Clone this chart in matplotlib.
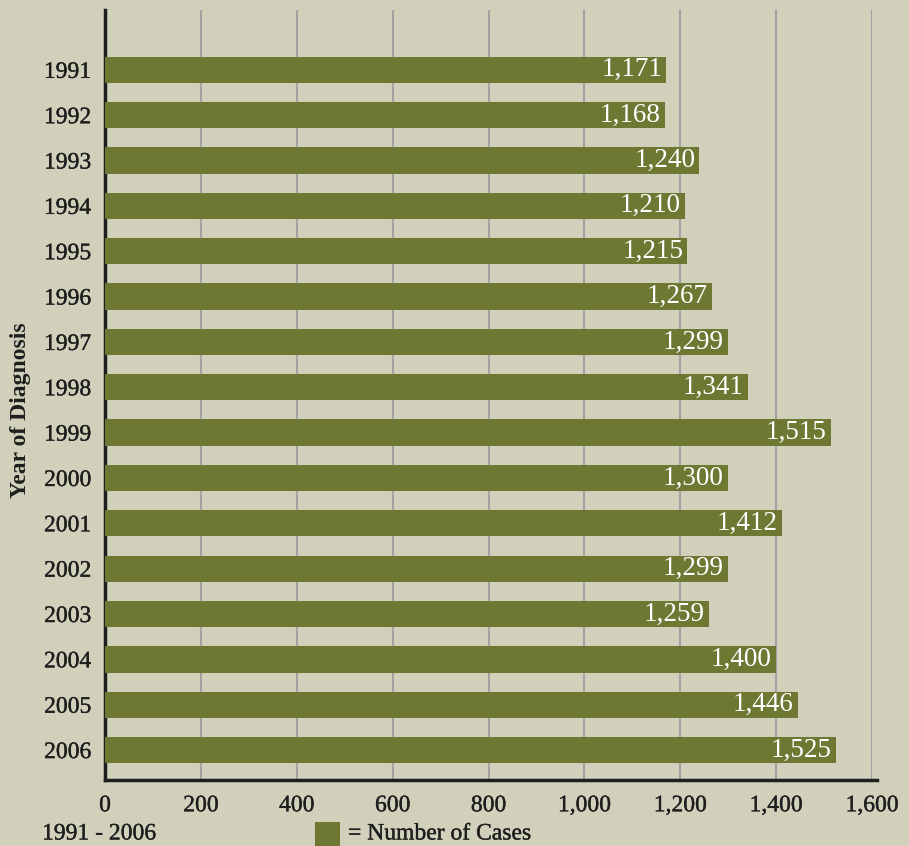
import matplotlib
matplotlib.use("Agg")
import matplotlib.pyplot as plt
import matplotlib.patheffects as pe
from matplotlib.patches import Rectangle

years = ["1991", "1992", "1993", "1994", "1995", "1996", "1997", "1998",
         "1999", "2000", "2001", "2002", "2003", "2004", "2005", "2006"]
cases = [1171, 1168, 1240, 1210, 1215, 1267, 1299, 1341,
         1515, 1300, 1412, 1299, 1259, 1400, 1446, 1525]
xticks = [0, 200, 400, 600, 800, 1000, 1200, 1400, 1600]
xtick_labels = ["0", "200", "400", "600", "800", "1,000", "1,200", "1,400", "1,600"]

BG = "#d1d1bb"
BAR = "#6e7833"
TXT = "#1e1e1e"
FONT = "Liberation Serif"
thick = [pe.withStroke(linewidth=0.25, foreground=TXT)]

fig = plt.figure(figsize=(9.09, 8.46), dpi=100, facecolor=BG)
ax = fig.add_axes([105/909, 1-780/846, (872-105)/909, (780-10)/846])
ax.set_facecolor(BG)

pos = list(range(len(years)))
ax.barh(pos, cases, height=0.58, color=BAR, zorder=3)
for p, v in zip(pos, cases):
    ax.text(v - 9, p, f"{v:,}", ha="right", va="center", color="white",
            fontsize=19.5, family=FONT, zorder=4)

ax.set_xlim(0, 1600)
ax.set_ylim(15.66, -1.32)
ax.set_xticks(xticks)
ax.set_xticklabels(xtick_labels, family=FONT, fontsize=17, color=TXT)
ax.set_yticks(pos)
ax.set_yticklabels(years, family=FONT, fontsize=17, color=TXT)
for lab in ax.get_xticklabels() + ax.get_yticklabels():
    lab.set_path_effects(thick)
ax.tick_params(axis="both", length=0)
ax.tick_params(axis="x", pad=11)
ax.tick_params(axis="y", pad=10)
ax.grid(axis="x", color="#a3a3a3", lw=1.5, zorder=1)
for s in ["top", "right"]:
    ax.spines[s].set_visible(False)
for s in ["left", "bottom"]:
    ax.spines[s].set_linewidth(2.5)
    ax.spines[s].set_color(TXT)
ax.spines["bottom"].set_bounds(0, 1610)

fig.text(21/909, 1-410/846, "Year of Diagnosis", rotation=90, ha="center", va="center",
         family=FONT, fontsize=17, fontweight="bold", color=TXT)
fig.text(42/909, 1-834/846, "1991 - 2006", ha="left", va="center",
         family=FONT, fontsize=17, color=TXT, path_effects=thick)
fig.patches.append(Rectangle((315/909, 0), 25/909, 24/846, transform=fig.transFigure,
                             facecolor=BAR, edgecolor="none"))
fig.text(348/909, 1-834/846, "= Number of Cases", ha="left", va="center",
         family=FONT, fontsize=17, color=TXT, path_effects=thick)

fig.savefig("out.png", dpi=100, facecolor=BG)
